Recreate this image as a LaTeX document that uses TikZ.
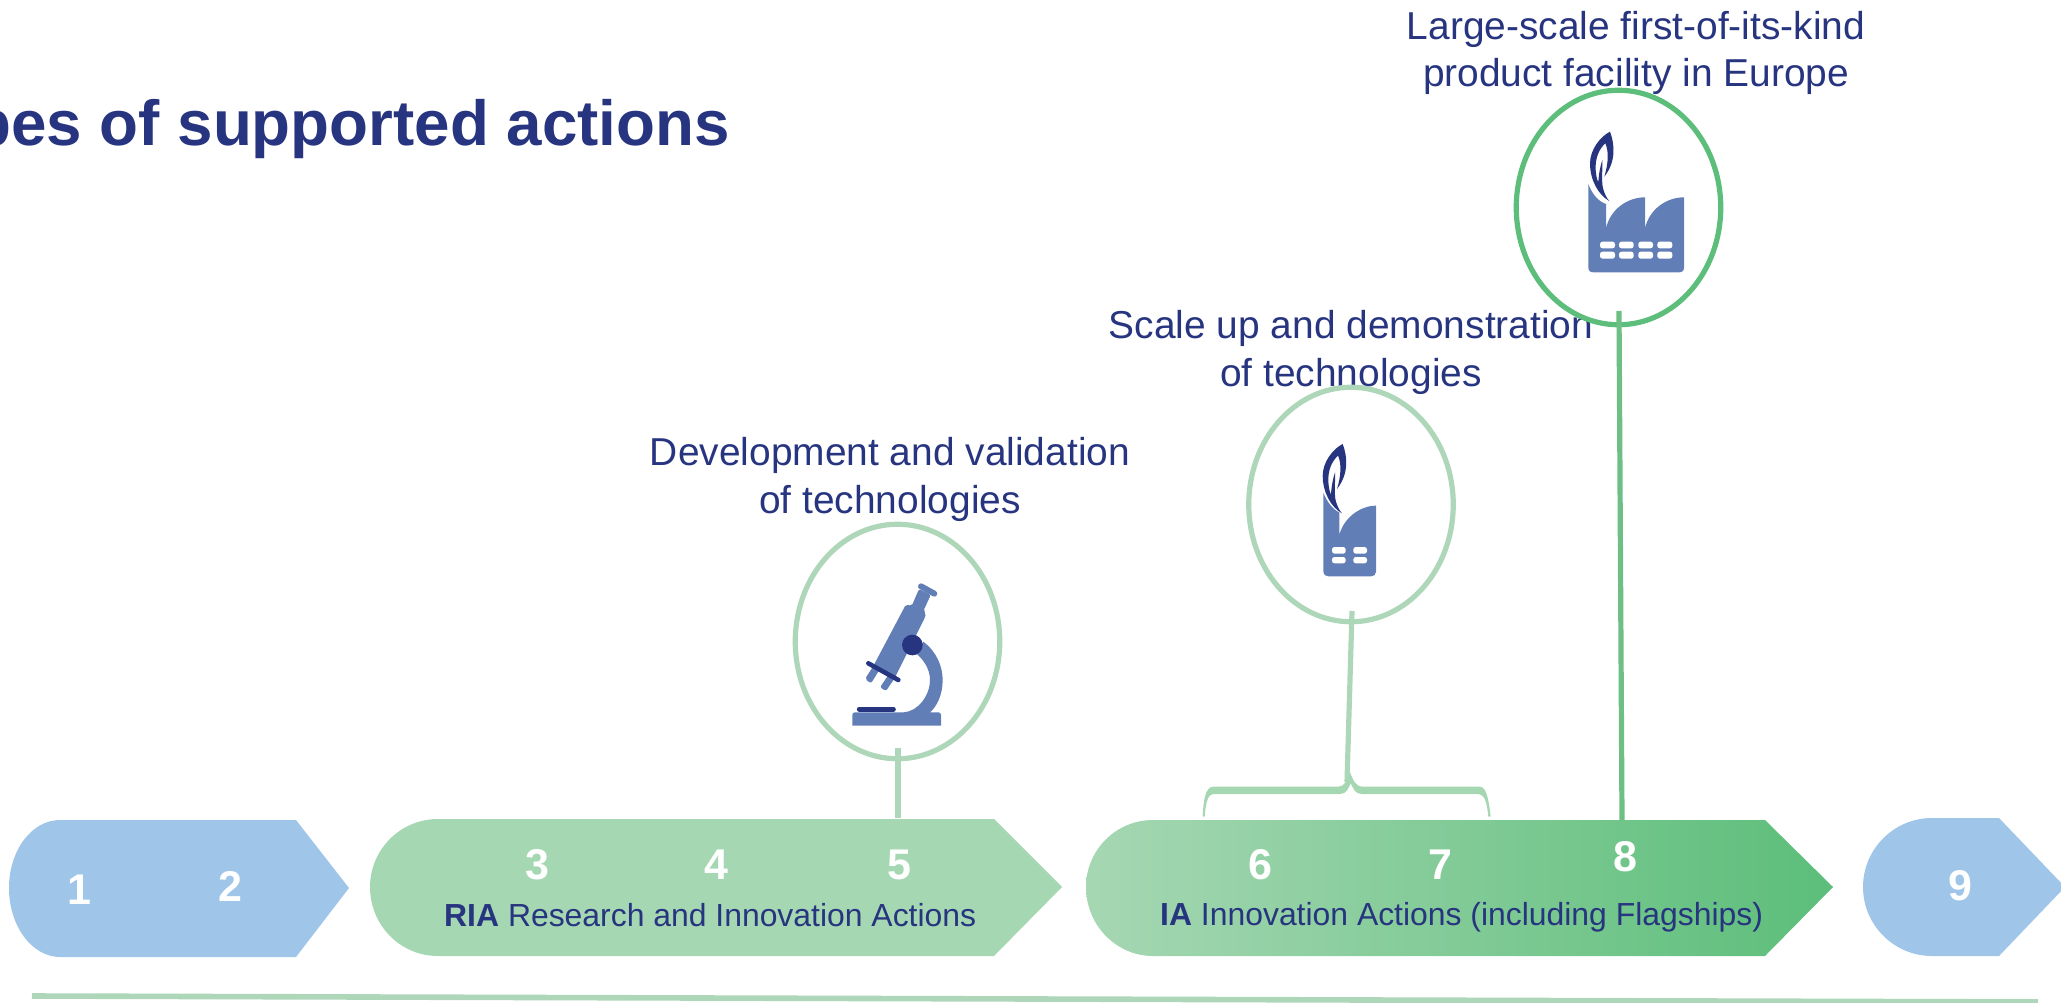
\documentclass[tikz,border=0pt]{standalone}
\usepackage{fontspec}
\setmainfont{Liberation Sans}
\usetikzlibrary{shapes.geometric}
\definecolor{navy}{HTML}{27347F}
\definecolor{iconblue}{HTML}{627EB6}
\definecolor{skyb}{HTML}{9FC5E9}
\definecolor{riag}{HTML}{A6D7B3}
\definecolor{paleg}{HTML}{AED6B8}
\definecolor{deepg}{HTML}{5CBE7A}
\definecolor{lineg}{HTML}{6DBF85}
\tikzset{
  x=1pt,y=-1pt,
  caption/.style={font=\fontsize{38.9}{47.5}\selectfont,text=navy,align=center,inner sep=0pt,anchor=base},
  num/.style={font=\fontsize{43}{43}\selectfont\bfseries,text=white,inner sep=0pt,anchor=center},
  band/.style={font=\fontsize{31.9}{36}\selectfont,text=navy,inner sep=0pt,anchor=base west},
  ring/.style={ellipse,draw=#1,line width=5.2pt,minimum width=204.5pt,minimum height=234.5pt,inner sep=0pt},
  stem/.style={line width=#1},
  stem/.default=5.2pt,
  win/.style={fill=white,rounded corners=2.5pt},
  iconbody/.style={fill=iconblue},
  icondark/.style={fill=navy},
}
\newcommand{\flameicon}{%
  \path[icondark] (90,20) .. controls (105,60) and (108,110) .. (73,155)
    .. controls (85,115) and (87,80) .. (76,55)
    .. controls (57,72) and (45,100) .. (47,135)
    .. controls (48,150) and (51,165) .. (55,172)
    .. controls (56,145) and (62,120) .. (67,105)
    .. controls (68,130) and (64,170) .. (69,190)
    .. controls (73,205) and (80,220) .. (88,228)
    .. controls (55,210) and (30,165) .. (30,115)
    .. controls (30,75) and (60,35) .. (90,20) -- cycle;}
\begin{document}
\begin{tikzpicture}
\useasboundingbox (0,0) rectangle (2061,1003);
\clip (0,0) rectangle (2061,1003);
% title
\node[font=\fontsize{63.7}{70}\selectfont\bfseries,text=navy,inner sep=0pt,anchor=base east] (title) at (730,146) {Types of supported actions};
% bands
\path[fill=skyb] (60,820) -- (296,820) -- (349,888) -- (296,957) -- (60,957)
  .. controls (32,957) and (9,926) .. (9,888) .. controls (9,850) and (32,820) .. (60,820) -- cycle;
\path[fill=riag] (438,819) -- (994,819) -- (1062,887) -- (994,956) -- (438,956)
  .. controls (400,956) and (370,925) .. (370,887) .. controls (370,850) and (400,819) .. (438,819) -- cycle;
\shade[left color=riag,right color=deepg] (1153,820) -- (1765,820) -- (1833,887) -- (1765,956) -- (1153,956)
  .. controls (1116,956) and (1086,925) .. (1086,887) .. controls (1086,850) and (1116,820) .. (1153,820) -- cycle;
\path[fill=skyb] (1932,818) -- (1999,818) -- (2065,887) -- (1999,956) -- (1932,956)
  .. controls (1894,956) and (1863,925) .. (1863,887) .. controls (1863,849) and (1894,818) .. (1932,818) -- cycle;
% numbers
\node[num] (n1) at (79,890) {1};
\node[num] (n2) at (230,886) {2};
\node[num] (n3) at (537,865) {3};
\node[num] (n4) at (716,865) {4};
\node[num] (n5) at (899,865) {5};
\node[num] (n6) at (1260,865) {6};
\node[num] (n7) at (1440,865) {7};
\node[num] (n8) at (1625,857) {8};
\node[num] (n9) at (1960,886) {9};
\node[band] (ria) at (444,926) {\textbf{RIA} Research and Innovation Actions};
\node[band] (ia) at (1160,925) {\textbf{IA} Innovation Actions (including Flagships)};
% captions
\node[caption] (cap8) at (1636,87) {Large-scale first-of-its-kind\\product facility in Europe};
\node[caption] (cap7) at (1351,386) {Scale up and demonstration\\of technologies};
\node[caption] (cap5) at (890,513) {Development and validation\\of technologies};
% circles
\node[ring=paleg] (c5) at (897.5,641.5) {};
\node[ring=paleg] (c7) at (1351,504.5) {};
\node[ring=deepg] (c8) at (1618.5,207.5) {};
% connector ends
\coordinate (s5) at (898,748);
\coordinate (e5) at (898,818);
\coordinate (s7) at (1352,611);
\coordinate (e7) at (1347,782);
\coordinate (s8) at (1619,311);
\coordinate (e8) at (1622,820);
\coordinate (baseL) at (32,996);
\coordinate (baseR) at (2038,1002);
\draw[paleg,stem] (s5) -- (e5);
\draw[paleg,stem] (s7) -- (e7);
\draw[lineg,stem] (s8) -- (e8);
\draw[paleg,stem=5.6pt] (baseL) -- (baseR);
% brace
\begin{scope}[shift={(1190,765)},scale=1/3]
\path[fill=riag] (38,155) .. controls (40,110) and (45,65) .. (70,65) -- (445,65)
  .. controls (465,65) and (470,45) .. (480,22) .. controls (490,45) and (495,65) .. (520,65)
  -- (870,65) .. controls (890,65) and (897,110) .. (902,155) -- (895,155)
  .. controls (890,110) and (885,87) .. (860,87) -- (515,87)
  .. controls (495,87) and (490,70) .. (482,55) .. controls (475,70) and (470,87) .. (450,87)
  -- (70,87) .. controls (55,87) and (47,110) .. (44,155) -- cycle;
\end{scope}
% microscope
\begin{scope}[shift={(840,580)},scale=1/3]
\path[iconbody] (37,437) -- (37,405) .. controls (37,400) and (40,397) .. (45,397) -- (190,397)
  .. controls (235,395) and (270,345) .. (270,300) .. controls (270,265) and (248,235) .. (225,218)
  -- (250,185) .. controls (290,215) and (308,260) .. (308,300)
  .. controls (308,345) and (290,380) .. (270,397) -- (295,397)
  .. controls (300,397) and (303,400) .. (303,405) -- (303,437) -- cycle;
\path[iconbody,rounded corners=2pt] (198,73) -- (215,78) -- (237,27) -- (272,45) -- (250,93) -- (258,100) -- (255,112) -- (163,296) -- (138,333) -- (120,322) -- (145,285) -- (118,270) -- (93,310) -- (75,297) -- (100,258) -- cycle;
\draw[iconblue,line width=6pt,line cap=round] (243,19) -- (283,41);
\draw[navy,line width=4.6pt,line cap=round] (85,250) -- (175,300);
\draw[navy,line width=5pt,line cap=round] (58,387) -- (160,387);
\path[icondark] (217,195) circle[radius=31];
\end{scope}
% large factory
\begin{scope}[shift={(1480,60)},scale=1/3]
\path[iconbody] (325,372) .. controls (335,400) and (355,425) .. (378,432) -- (378,505)
  .. controls (390,450) and (440,412) .. (495,412) -- (495,505)
  .. controls (507,450) and (557,412) .. (612,412) -- (612,622)
  .. controls (612,632) and (607,637) .. (597,637) -- (340,637)
  .. controls (330,637) and (325,632) .. (325,622) -- cycle;
\foreach \xa/\xb in {360/405,417/461,475/519,532/577}{
  \path[win] (\xa,545) rectangle (\xb,565);
  \path[win] (\xa,575) rectangle (\xb,596);
}
\end{scope}
\begin{scope}[shift={(1580,125)},scale=1/3]
\flameicon
\end{scope}
% small factory
\begin{scope}[shift={(1220,370)},scale=1/3]
\path[iconbody] (310,368) .. controls (320,395) and (340,420) .. (358,427) -- (358,495)
  .. controls (370,445) and (420,407) .. (468,407) -- (468,605)
  .. controls (468,614) and (462,619) .. (453,619) -- (325,619)
  .. controls (316,619) and (310,614) .. (310,605) -- cycle;
\foreach \xa/\xb in {336/377,400/441}{
  \path[win] (\xa,531) rectangle (\xb,551);
  \path[win] (\xa,561) rectangle (\xb,580);
}
\end{scope}
\begin{scope}[shift={(1312.7,437.3)},scale=1/3]
\flameicon
\end{scope}
\end{tikzpicture}
\end{document}
